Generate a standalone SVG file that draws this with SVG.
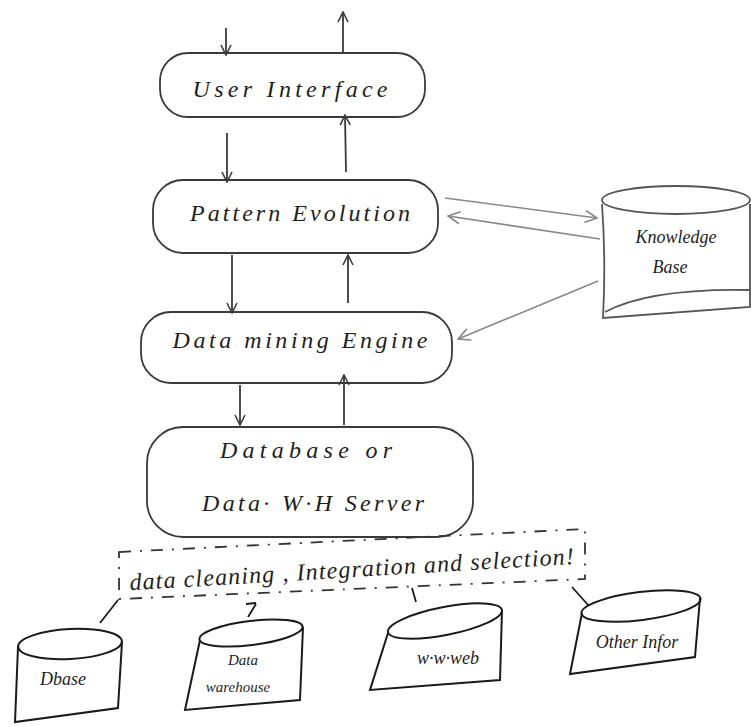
<svg xmlns="http://www.w3.org/2000/svg" width="751" height="727" viewBox="0 0 751 727">
<style>
.box{fill:none;stroke:#3a3a3a;stroke-width:1.8}
.kb{fill:none;stroke:#555;stroke-width:1.8}
.cyl{fill:none;stroke:#1a1a1a;stroke-width:2}
.con{fill:none;stroke:#3a3a3a;stroke-width:1.8}
.con2{fill:none;stroke:#888;stroke-width:1.6}
.lnk{fill:none;stroke:#1a1a1a;stroke-width:1.8}
.dash{fill:none;stroke:#333;stroke-width:1.8;stroke-dasharray:12 9 2 9}
text{font-family:"Liberation Serif","DejaVu Serif",serif;font-style:italic;fill:#1e1e1e;text-anchor:middle}
.t{font-size:24px}
.s{font-size:18px}
.xs{font-size:15px}
</style>
<defs>
<marker id="ah" viewBox="0 0 12 12" refX="11" refY="6" markerWidth="12" markerHeight="12" markerUnits="userSpaceOnUse" orient="auto">
<path d="M1,1 L11,6 L1,11" fill="none" stroke="#3a3a3a" stroke-width="1.6"/>
</marker>
<marker id="ah2" viewBox="0 0 14 14" refX="13" refY="7" markerWidth="14" markerHeight="14" markerUnits="userSpaceOnUse" orient="auto">
<path d="M1,1 L13,7 L1,13" fill="none" stroke="#888" stroke-width="1.6"/>
</marker>
</defs>
<rect width="751" height="727" fill="#fff"/>

<g id="connectors">
<line class="con" x1="226" y1="28" x2="226" y2="55" marker-end="url(#ah)"/>
<line class="con" x1="343" y1="52" x2="343" y2="12" marker-end="url(#ah)"/>
<line class="con" x1="227" y1="133" x2="227" y2="182" marker-end="url(#ah)"/>
<line class="con" x1="346" y1="172" x2="345" y2="115" marker-end="url(#ah)"/>
<line class="con" x1="232" y1="255" x2="232" y2="313" marker-end="url(#ah)"/>
<line class="con" x1="348" y1="303" x2="348" y2="255" marker-end="url(#ah)"/>
<line class="con" x1="240" y1="385" x2="240" y2="425" marker-end="url(#ah)"/>
<line class="con" x1="344" y1="425" x2="344" y2="375" marker-end="url(#ah)"/>
<line class="con2" x1="445" y1="198" x2="597" y2="218" marker-end="url(#ah2)"/>
<line class="con2" x1="600" y1="239" x2="448" y2="216" marker-end="url(#ah2)"/>
<line class="con2" x1="598" y1="281" x2="458" y2="339" marker-end="url(#ah2)"/>
<line class="lnk" x1="118" y1="600" x2="100" y2="623"/>
<path class="lnk" d="M248,617 L256,604 M246,604 L256,603"/>
<line class="lnk" x1="412" y1="588" x2="416" y2="602"/>
<line class="lnk" x1="572" y1="587" x2="589" y2="606"/>
</g>

<g id="user-interface">
<rect class="box" x="160" y="53" width="265" height="64" rx="28"/>
<text class="t" x="290" y="97" textLength="195">User  Interface</text>
</g>

<g id="pattern-evolution">
<rect class="box" x="153" y="180" width="285" height="73" rx="30"/>
<text class="t" x="300" y="221" textLength="220">Pattern  Evolution</text>
</g>

<g id="data-mining-engine">
<rect class="box" x="141" y="312" width="311" height="71" rx="30"/>
<text class="t" x="300" y="348" textLength="255">Data  mining  Engine</text>
</g>

<g id="database-server">
<rect class="box" x="147" y="427" width="326" height="110" rx="36"/>
<text class="t" x="306" y="458" textLength="172">Database   or</text>
<text class="t" x="313" y="511" textLength="222">Data· W·H  Server</text>
</g>

<g id="knowledge-base">
<ellipse class="kb" cx="676" cy="200" rx="74" ry="14"/>
<path class="kb" d="M602,204 Q606,260 603,318 L750,307 L750,204"/>
<path class="kb" d="M605,312 Q650,288 750,290"/>
<text class="s" x="676" y="243">Knowledge</text>
<text class="s" x="670" y="273">Base</text>
</g>

<g id="data-cleaning">
<polygon class="dash" points="119,552 585,529 585,579 119,599"/>
<text class="t" transform="rotate(-3.4 355 577)" x="352" y="577" textLength="445">data cleaning , Integration and selection!</text>
</g>

<g id="dbase">
<ellipse class="cyl" cx="70" cy="644" rx="52" ry="15" transform="rotate(-3 70 644)"/>
<path class="cyl" d="M18,647 L15,722 L118,708 L122,642"/>
<text class="s" x="63" y="685">Dbase</text>
</g>

<g id="data-warehouse">
<ellipse class="cyl" cx="251" cy="633" rx="52" ry="12" transform="rotate(-7 251 633)"/>
<path class="cyl" d="M200,640 L185,710 L300,700 L303,627"/>
<text class="xs" x="243" y="665">Data</text>
<text class="xs" x="238" y="692">warehouse</text>
</g>

<g id="www-web">
<ellipse class="cyl" cx="445" cy="621" rx="58" ry="14" transform="rotate(-11 445 621)"/>
<path class="cyl" d="M388,633 L370,690 L500,680 L502,610"/>
<text class="s" x="448" y="664">w·w·web</text>
</g>

<g id="other-infor">
<ellipse class="cyl" cx="641" cy="606" rx="60" ry="14" transform="rotate(-7 641 606)"/>
<path class="cyl" d="M582,613 L570,674 L695,657 L700,598"/>
<text class="s" x="637" y="648">Other  Infor</text>
</g>
</svg>
